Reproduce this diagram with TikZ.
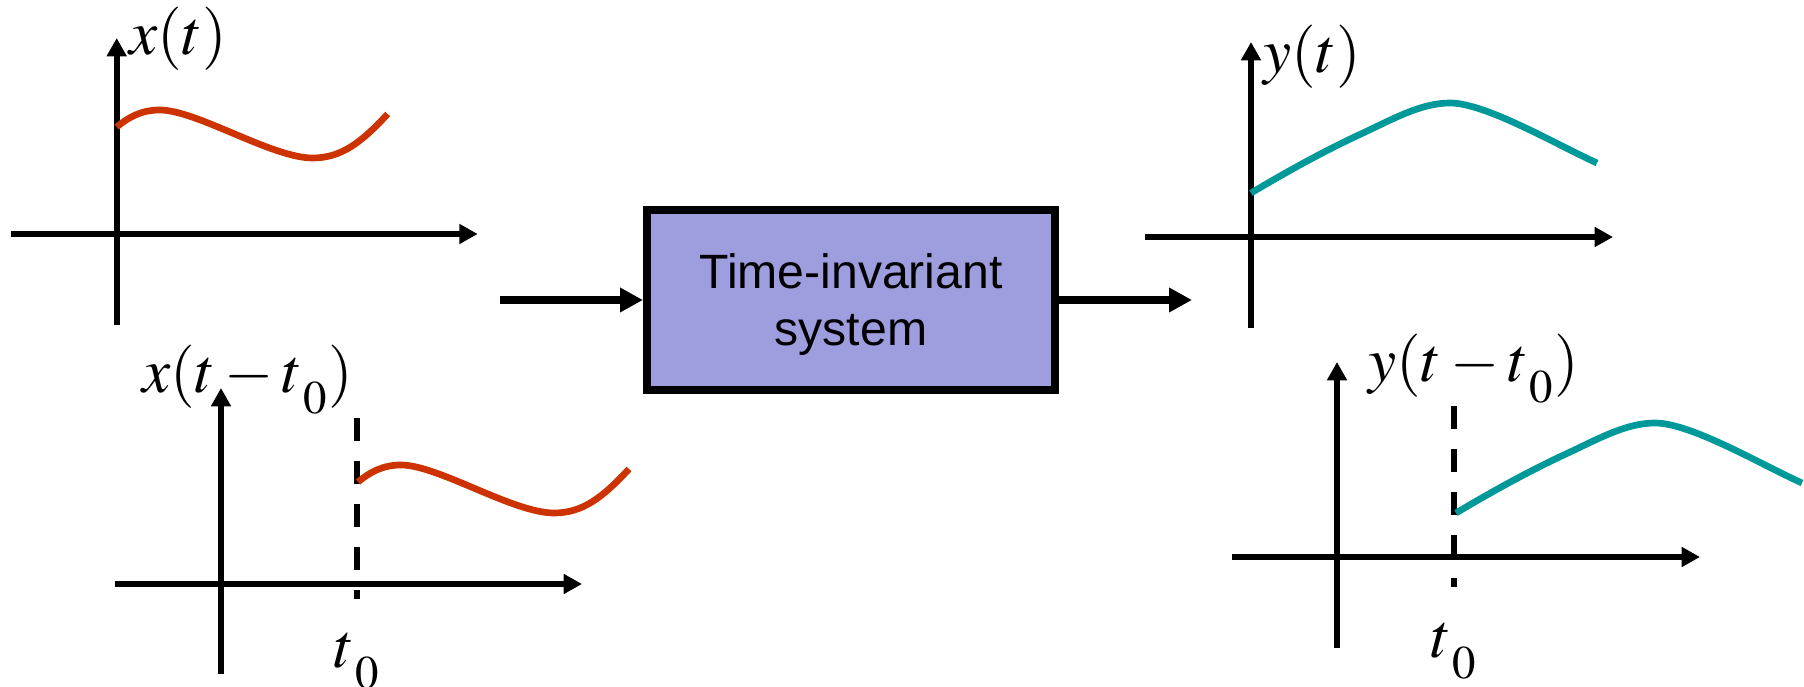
\documentclass[tikz,border=0pt]{standalone}
\usepackage{mathptmx}
\usepackage{fontspec}
\newfontfamily\boxfont{Liberation Sans}
\usetikzlibrary{arrows.meta}
\definecolor{sigred}{RGB}{204,51,0}
\definecolor{sigteal}{RGB}{0,153,153}
\definecolor{boxfill}{RGB}{158,158,222}
\newcommand{\tnought}{t_{\,\raisebox{-3pt}{$\scriptstyle 0$}}}

\begin{document}
\begin{tikzpicture}[>={Triangle[length=5.2pt,width=5.4pt]},
  axisline/.style={line width=1.6pt,->},
  wave/.style={line width=1.9pt},
  tmark/.style={line width=1.7pt,dash pattern=on 0.23cm off 0.2cm},
  siglabel/.style={inner sep=0pt,anchor=base west,font=\fontsize{18}{21}\selectfont},
  bigarrow/.style={line width=2pt,-{Triangle[length=6.5pt,width=6.6pt]}},
  sysbox/.style={draw,line width=2.3pt,fill=boxfill,minimum width=4.08cm,minimum height=1.8cm,
    align=center,text depth=0pt,font=\boxfont\fontsize{13.7}{16.2}\selectfont}]
\useasboundingbox (0,0) rectangle (18.04,6.87);

% input x(t)
\begin{scope}[shift={(1.167,4.53)}]
\draw[axisline] (-1.06,0) -- (3.61,0);
\draw[axisline] (0,-0.91) -- (0,1.96);
\draw[sigred,wave] (0,1.07) .. controls (0.12,1.17) and (0.25,1.24) .. (0.43,1.24)
  .. controls (0.8,1.24) and (1.55,0.76) .. (1.96,0.76)
  .. controls (2.25,0.76) and (2.45,0.92) .. (2.71,1.20);
\node[siglabel] (xt) at (0.12,1.79) {$x(t)$};
\end{scope}

% shifted input x(t-t0)
\begin{scope}[shift={(2.21,1.03)}]
\draw[axisline] (-1.06,0) -- (3.61,0);
\draw[axisline] (0,-0.9) -- (0,1.96);
\draw[tmark] (1.36,1.66) -- (1.36,-0.15);
\draw[sigred,wave,xshift=1.37cm,yshift=-0.05cm] (0,1.07) .. controls (0.12,1.17) and (0.25,1.24) .. (0.43,1.24)
  .. controls (0.8,1.24) and (1.55,0.76) .. (1.96,0.76)
  .. controls (2.25,0.76) and (2.45,0.92) .. (2.71,1.20);
\node[siglabel] (xtd) at (-0.79,1.91) {$x(t-\tnought)$};
\node[siglabel,anchor=base] (tin) at (1.36,-0.84) {$\tnought$};
\end{scope}

% the system
\node[sysbox] (sys) at (8.51,3.87) {Time-invariant\\system};
\coordinate (sysin) at (5.00,3.87);
\coordinate (sysout) at (11.92,3.87);
\draw[bigarrow] (sysin) -- (sys.west);
\draw[bigarrow] (sys.east) -- (sysout);

% output y(t)
\begin{scope}[shift={(12.51,4.50)}]
\draw[axisline] (-1.06,0) -- (3.62,0);
\draw[axisline] (0,-0.91) -- (0,1.95);
\draw[sigteal,wave] (0,0.44) .. controls (0.37,0.66) and (0.75,0.87) .. (1.12,1.04)
  .. controls (1.42,1.18) and (1.7,1.34) .. (1.99,1.34)
  .. controls (2.35,1.34) and (3.06,0.92) .. (3.46,0.74);
\node[siglabel] (yt) at (0.12,1.64) {$y(t)$};
\end{scope}

% shifted output y(t-t0)
\begin{scope}[shift={(13.37,1.30)}]
\draw[axisline] (-1.05,0) -- (3.63,0);
\draw[axisline] (0,-0.91) -- (0,1.95);
\draw[tmark] (1.17,1.51) -- (1.17,-0.30);
\draw[sigteal,wave,xshift=1.19cm] (0,0.44) .. controls (0.37,0.66) and (0.75,0.87) .. (1.12,1.04)
  .. controls (1.42,1.18) and (1.7,1.34) .. (1.99,1.34)
  .. controls (2.35,1.34) and (3.06,0.92) .. (3.46,0.74);
\node[siglabel] (ytd) at (0.31,1.75) {$y(t-\tnought)$};
\node[siglabel,anchor=base] (tout) at (1.17,-1.01) {$\tnought$};
\end{scope}
\end{tikzpicture}
\end{document}
